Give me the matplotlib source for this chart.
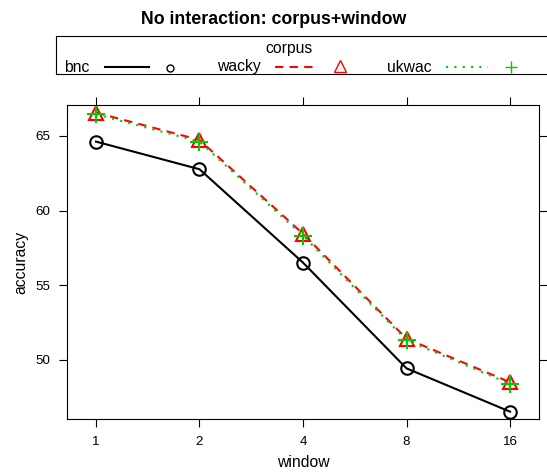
import numpy as np
import matplotlib
matplotlib.use('Agg')
import matplotlib.pyplot as plt
from matplotlib.lines import Line2D

plt.rcParams['font.family'] = ['Liberation Sans', 'DejaVu Sans']

# data
window = [1, 2, 4, 8, 16]
bnc = [64.62, 62.77, 56.52, 49.44, 46.54]
wacky = [66.56, 64.73, 58.45, 51.43, 48.51]
ukwac = [66.45, 64.62, 58.32, 51.33, 48.40]
yticks = [50, 55, 60, 65]

green = '#00CC00'
fs = 11.3

fig = plt.figure(figsize=(5.47, 4.72), dpi=100)
ax = fig.add_axes([67/547, 53/472, 472/547, 314/472])

xpos = np.log2(window)
ax.plot(xpos, bnc, color='black', lw=1.5, ls='-', marker='o', ms=9,
        mfc='none', mec='black', mew=1.5)
ax.plot(xpos, wacky, color='red', lw=1.5, ls=(0, (4, 3)), marker='^', ms=10,
        mfc='none', mec='red', mew=1.5)
ax.plot(xpos, ukwac, color=green, lw=1.5, ls=(0, (1, 3)), marker='+', ms=13,
        mec=green, mew=1.5)

ax.set_xlim(-0.28, 4.28)
ax.set_ylim(46.05, 67.07)
ax.set_xticks(xpos)
ax.set_xticklabels([str(w) for w in window])
ax.set_yticks(yticks)
ax.tick_params(direction='out', length=6, labelsize=9.6, top=True, right=True,
               labeltop=False, labelright=False, width=0.8, pad=6)
for s in ax.spines.values():
    s.set_linewidth(0.8)
ax.set_xlabel('window', fontsize=fs, labelpad=5)
ax.set_ylabel('accuracy', fontsize=fs, labelpad=5)

fig.text(0.5, 1 - 20/472, 'No interaction: corpus+window', ha='center',
         va='center', fontsize=12.8, fontweight='bold')

# lattice-style key
lg = fig.add_axes([56/547, 398/472, 495/547, 38/472])
lg.set_xlim(56, 551)
lg.set_ylim(74, 36)
lg.set_xticks([])
lg.set_yticks([])
for s in lg.spines.values():
    s.set_linewidth(0.8)
lg.text(289, 49, 'corpus', ha='center', va='center', fontsize=fs)
lg.text(64, 67, 'bnc', ha='left', va='center', fontsize=fs)
lg.add_line(Line2D([105, 149], [67, 67], color='black', lw=1.5))
lg.plot([170], [68], marker='o', ms=5, mfc='none', mec='black', mew=1)
lg.text(217, 67, 'wacky', ha='left', va='center', fontsize=fs)
lg.add_line(Line2D([275, 313], [67, 67], color='red', lw=1.5, ls=(0, (4, 3))))
lg.plot([340], [66], marker='^', ms=8, mfc='none', mec='red', mew=1)
lg.text(387, 67, 'ukwac', ha='left', va='center', fontsize=fs)
lg.add_line(Line2D([446, 488], [67, 67], color=green, lw=1.5, ls=(0, (1, 3))))
lg.plot([511], [67], marker='+', ms=9, mec=green, mew=1)

fig.savefig('out.png', dpi=100)
